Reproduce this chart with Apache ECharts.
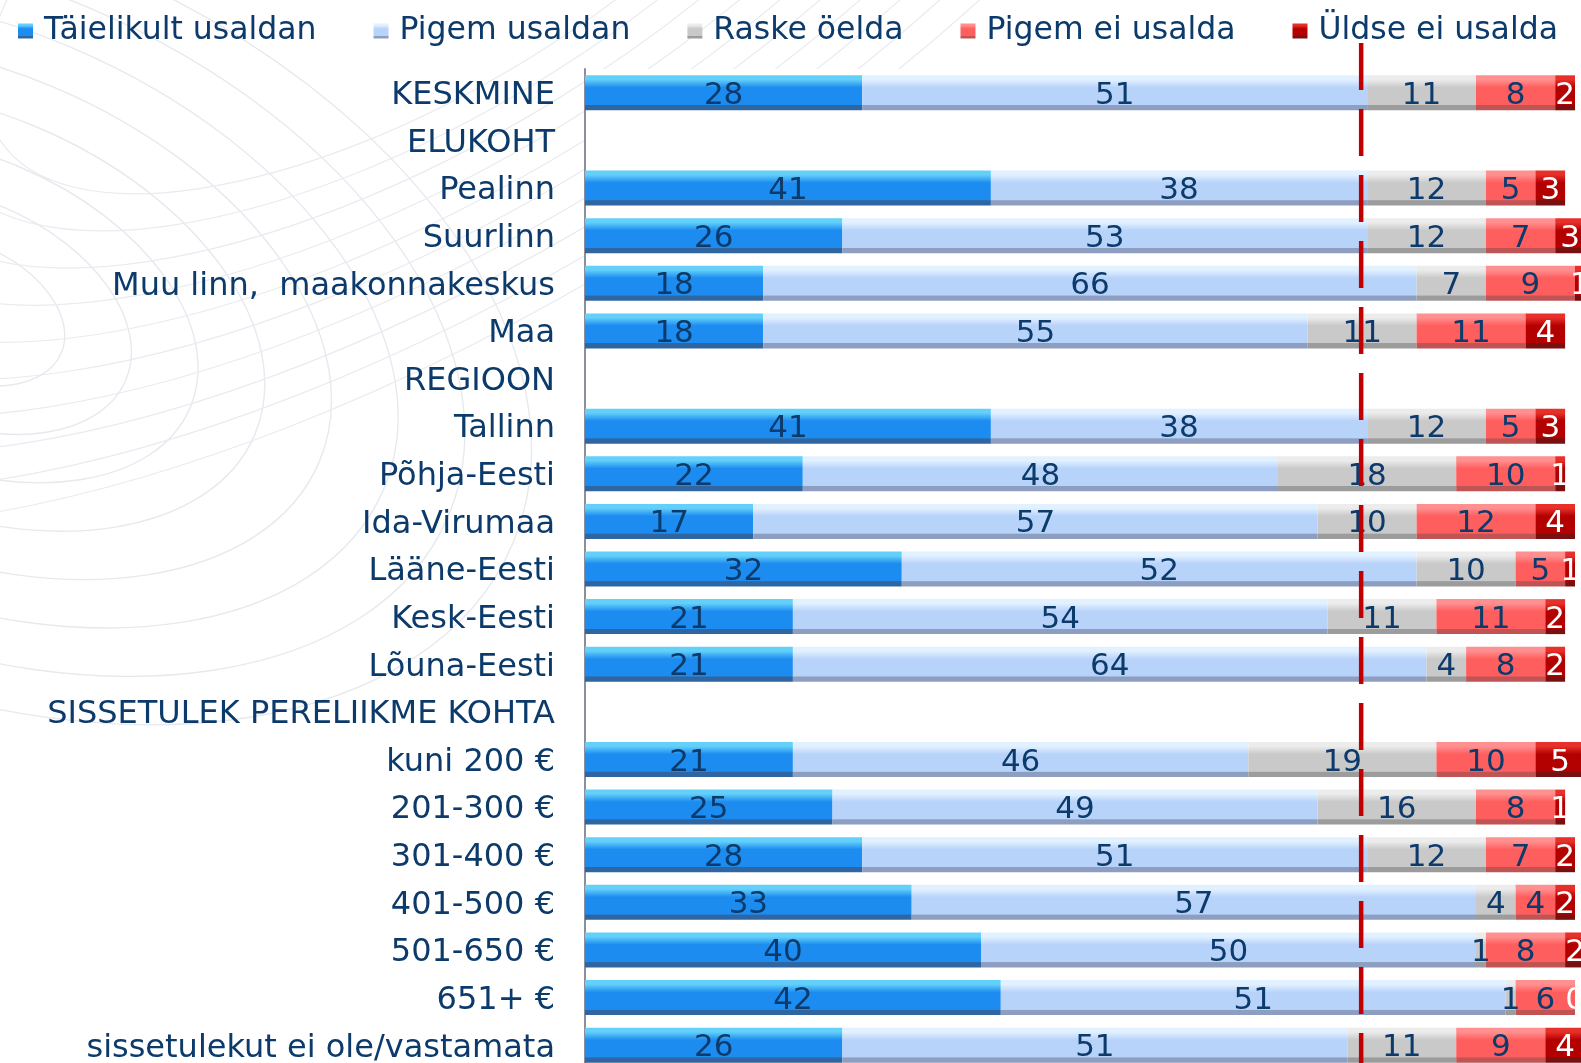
<!DOCTYPE html>
<html>
<head>
<meta charset="utf-8">
<title>Usaldus</title>
<script src="https://cdn.jsdelivr.net/npm/echarts@6/dist/echarts.min.js"></script>
<style>
  html, body { margin: 0; padding: 0; background: #fff; }
  #chart { width: 1581px; height: 1063px; }
</style>
</head>
<body>
<div id="chart"></div>
<script>
// rows top to bottom, group headers have no values
const categories = [
  'KESKMINE', 'ELUKOHT', 'Pealinn', 'Suurlinn', 'Muu linn,  maakonnakeskus', 'Maa',
  'REGIOON', 'Tallinn', 'Põhja-Eesti', 'Ida-Virumaa', 'Lääne-Eesti', 'Kesk-Eesti', 'Lõuna-Eesti',
  'SISSETULEK PERELIIKME KOHTA', 'kuni 200 €', '201-300 €', '301-400 €', '401-500 €', '501-650 €',
  '651+ €', 'sissetulekut ei ole/vastamata'
]
const seriesNames = ['Täielikult usaldan', 'Pigem usaldan', 'Raske öelda', 'Pigem ei usalda', 'Üldse ei usalda']

const taielikult = [28, null, 41, 26, 18, 18, null, 41, 22, 17, 32, 21, 21, null, 21, 25, 28, 33, 40, 42, 26]
const pigemUsaldan = [51, null, 38, 53, 66, 55, null, 38, 48, 57, 52, 54, 64, null, 46, 49, 51, 57, 50, 51, 51]
const raskeOelda = [11, null, 12, 12, 7, 11, null, 12, 18, 10, 10, 11, 4, null, 19, 16, 12, 4, 1, 1, 11]
const pigemEi = [8, null, 5, 7, 9, 11, null, 5, 10, 12, 5, 11, 8, null, 10, 8, 7, 4, 8, 6, 9]
const uldseEi = [2, null, 3, 3, 1, 4, null, 3, 1, 4, 1, 2, 2, null, 5, 1, 2, 2, 2, 0, 4]

// red dashed reference line (keskmine usaldus)
const averageLine = 78.4

const textColor = '#0b3a6b'
const font = 'DejaVu Sans'

// top light, body, bottom shade
const palette = [
  ['#63d0fa', '#1d8cf0', '#2f66a2'],
  ['#e2f1ff', '#b8d3fa', '#8d9ec0'],
  ['#ececec', '#c9c9c9', '#9c9c9c'],
  ['#ff9090', '#ff5e5e', '#c05454'],
  ['#e8302a', '#b30000', '#7a0f0f']
]

const bevel = ([top, body, bottom]) => new echarts.graphic.LinearGradient(0, 0, 0, 1, [
  { offset: 0, color: top },
  { offset: 0.12, color: top },
  { offset: 0.35, color: body },
  { offset: 0.84, color: body },
  { offset: 0.86, color: bottom },
  { offset: 1, color: bottom }
])

const values = [taielikult, pigemUsaldan, raskeOelda, pigemEi, uldseEi]

const barSeries = values.map((data, i) => ({
  name: seriesNames[i],
  type: 'bar',
  stack: 'total',
  xAxisIndex: 0,
  yAxisIndex: 0,
  barWidth: 35,
  clip: false,
  data,
  itemStyle: { color: bevel(palette[i]) },
  label: {
    show: true,
    position: 'inside',
    offset: [0, 3],
    fontFamily: font,
    fontSize: 31,
    color: i === 4 ? '#ffffff' : textColor
  }
}))

// faint wireframe in the background
const decor = []
for (let i = 0; i < 8; i++) {
  const r = 110 + i * 70
  decor.push({
    type: 'ellipse',
    silent: true,
    z: -10,
    shape: { cx: -40, cy: 310, rx: r, ry: r * 0.62 },
    rotation: -0.4,
    originX: -40,
    originY: 310,
    style: { fill: 'none', stroke: '#e6e9ee', lineWidth: 1.4 }
  })
}
for (let i = 0; i < 10; i++) {
  const r = 380 + i * 45
  decor.push({
    type: 'ellipse',
    silent: true,
    z: -10,
    shape: { cx: 420, cy: -120, rx: r * 1.3, ry: r * 0.55 },
    rotation: 0.55,
    originX: 420,
    originY: -120,
    style: { fill: 'none', stroke: '#e8ebf0', lineWidth: 1.2 }
  })
}

const chart = echarts.init(document.getElementById('chart'))
chart.setOption({
  animation: false,
  backgroundColor: '#ffffff',
  graphic: decor,
  legend: {
    data: seriesNames,
    left: 13,
    top: 10,
    icon: 'rect',
    itemWidth: 15,
    itemHeight: 15,
    itemGap: 57,
    textStyle: { fontFamily: font, fontSize: 31.5, color: textColor, padding: [0, 0, 0, 6] }
  },
  grid: [
    {
      left: 585, top: 69, width: 990, height: 1000,
      show: true, backgroundColor: '#ffffff', borderWidth: 0,
      outerBoundsMode: 'none', containLabel: false
    },
    { left: 585, top: 43, width: 990, height: 1030, outerBoundsMode: 'none', containLabel: false }
  ],
  xAxis: [
    { type: 'value', gridIndex: 0, min: 0, max: 100, show: false },
    { type: 'value', gridIndex: 1, min: 0, max: 100, show: false }
  ],
  yAxis: [
    {
      type: 'category',
      gridIndex: 0,
      inverse: true,
      data: categories,
      axisTick: { show: false },
      axisLine: { lineStyle: { color: '#8c8e9e', width: 2 } },
      axisLabel: {
        margin: 30,
        formatter: '{c|{value}}',
        rich: { c: { padding: [6, 0, 0, 0], fontFamily: font, fontSize: 32, color: textColor } },
        fontFamily: font,
        fontSize: 32,
        color: textColor
      },
      splitLine: { show: false }
    },
    { type: 'value', gridIndex: 1, min: 0, max: 1, show: false }
  ],
  series: [
    ...barSeries,
    {
      type: 'line',
      xAxisIndex: 1,
      yAxisIndex: 1,
      z: 20,
      symbol: 'none',
      silent: true,
      data: [[averageLine, 1], [averageLine, 0]],
      lineStyle: { color: '#c00000', width: 4.5, type: [47, 19] }
    }
  ]
})
</script>
</body>
</html>
